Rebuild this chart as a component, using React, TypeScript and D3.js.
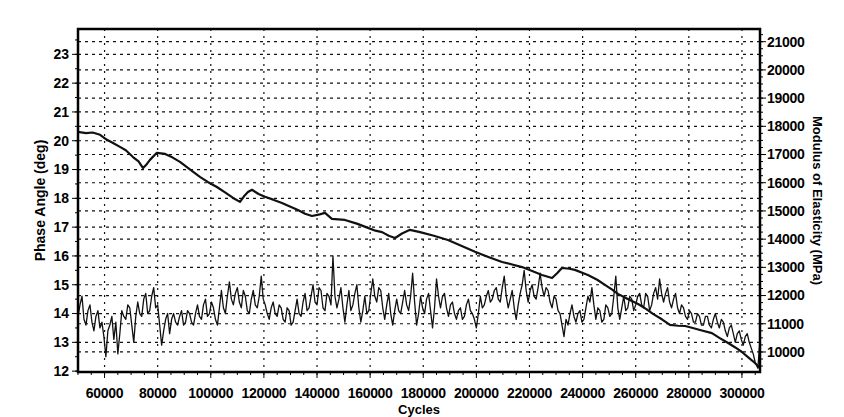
import React from "react";
import * as d3 from "d3";

const width = 844;
const height = 417;
const margin = { top: 29, right: 84, bottom: 45, left: 78 };

const cycleTicks = [60000, 80000, 100000, 120000, 140000, 160000, 180000, 200000, 220000, 240000, 260000, 280000, 300000];
const phaseTicks = [12, 13, 14, 15, 16, 17, 18, 19, 20, 21, 22, 23];
const modulusTicks = [10000, 11000, 12000, 13000, 14000, 15000, 16000, 17000, 18000, 19000, 20000, 21000];

// modulus of elasticity (MPa), right axis
const modulus: [number, number][] = [
  [50000, 17800], [53000, 17760], [55500, 17780], [58300, 17700], [60900, 17520], [63000, 17420],
  [65800, 17270], [68000, 17150], [70700, 16910], [72800, 16760], [74500, 16520], [75800, 16650],
  [77100, 16810], [79700, 17060], [82800, 17020], [85500, 16900], [88400, 16740], [92000, 16480],
  [95900, 16210], [99000, 16020], [102300, 15850], [105500, 15650], [108400, 15460], [111000, 15320],
  [112500, 15520], [114000, 15670], [115500, 15750], [118000, 15600], [120400, 15500], [123500, 15400],
  [126800, 15280], [130000, 15150], [132800, 15030], [135500, 14900], [138100, 14820], [141000, 14880],
  [143000, 14930], [145600, 14720], [148000, 14700], [150500, 14680], [155000, 14550], [159200, 14400],
  [162000, 14300], [164500, 14250], [167000, 14120], [169400, 14040], [172000, 14200], [175000, 14330],
  [178800, 14250], [184000, 14120], [189300, 13970], [194500, 13760], [199500, 13550], [204500, 13370],
  [209700, 13190], [213500, 13100], [217200, 13010], [221000, 12870], [224700, 12730], [228500, 12620],
  [230500, 12800], [232200, 12980], [235000, 12950], [237100, 12910], [242000, 12730], [245500, 12560],
  [248400, 12380], [251000, 12220], [253300, 12060], [257000, 11880], [260900, 11700], [264000, 11520],
  [266500, 11350], [270000, 11150], [272900, 10960], [276000, 10930], [278600, 10920], [281500, 10850],
  [284200, 10780], [288700, 10670], [291500, 10500], [294800, 10320], [297500, 10160], [300000, 10000],
  [302500, 9800], [304900, 9610], [306800, 9430]
];

// phase angle (deg), left axis
const phase: [number, number][] = [
  [50000, 13.9], [50750, 14.3], [51500, 14.6], [52250, 13.8], [53000, 13.6], [53750, 14.1], [54500, 14.3], [55250, 13.7],
  [56000, 13.4], [56750, 13.9], [57500, 14.1], [58250, 13.5], [59000, 13.7], [59750, 13.2], [60500, 12.5], [61250, 13.4],
  [62000, 13.6], [62750, 13.9], [63500, 13.1], [64250, 13.7], [65000, 12.6], [65750, 13.3], [66500, 14.1], [67250, 13.9],
  [68000, 13.8], [68750, 14.3], [69500, 14.2], [70250, 13.6], [71000, 13.0], [71750, 13.9], [72500, 14.4], [73250, 14.0],
  [74000, 13.9], [74750, 14.5], [75500, 14.7], [76250, 14.0], [77000, 14.1], [77750, 14.6], [78500, 14.9], [79250, 14.2],
  [80000, 14.3], [80750, 13.6], [81500, 12.9], [82250, 13.4], [83000, 13.8], [83750, 14.0], [84500, 13.3], [85250, 13.8],
  [86000, 14.0], [86750, 13.7], [87500, 13.6], [88250, 13.9], [89000, 14.1], [89750, 13.6], [90500, 13.7], [91250, 14.1],
  [92000, 14.0], [92750, 13.7], [93500, 13.6], [94250, 14.0], [95000, 14.3], [95750, 13.9], [96500, 13.8], [97250, 14.3],
  [98000, 14.5], [98750, 13.9], [99500, 14.0], [100250, 14.4], [101000, 14.2], [101750, 13.8], [102500, 13.6], [103250, 14.2],
  [104000, 14.8], [104750, 14.2], [105500, 14.0], [106250, 14.6], [107000, 15.1], [107750, 14.5], [108500, 14.3], [109250, 14.7],
  [110000, 14.9], [110750, 14.4], [111500, 14.2], [112250, 14.8], [113000, 14.6], [113750, 14.1], [114500, 14.0], [115250, 14.5],
  [116000, 14.8], [116750, 14.3], [117500, 14.2], [118250, 14.6], [119000, 15.3], [119750, 14.5], [120500, 14.3], [121250, 14.0],
  [122000, 13.8], [122750, 14.2], [123500, 14.4], [124250, 14.0], [125000, 13.9], [125750, 14.3], [126500, 14.2], [127250, 13.8],
  [128000, 13.7], [128750, 14.2], [129500, 14.1], [130250, 13.6], [131000, 13.7], [131750, 14.1], [132500, 14.5], [133250, 14.0],
  [134000, 13.9], [134750, 14.4], [135500, 14.7], [136250, 14.1], [137000, 14.2], [137750, 14.6], [138500, 15.0], [139250, 14.4],
  [140000, 14.3], [140750, 14.9], [141500, 14.8], [142250, 14.2], [143000, 14.1], [143750, 14.7], [144500, 14.6], [145250, 14.3],
  [146000, 16.0], [146750, 14.6], [147500, 14.2], [148250, 14.5], [149000, 14.9], [149750, 14.2], [150500, 13.7], [151250, 14.3],
  [152000, 14.8], [152750, 14.1], [153500, 14.3], [154250, 14.7], [155000, 15.0], [155750, 14.2], [156500, 13.7], [157250, 14.1],
  [158000, 14.6], [158750, 14.0], [159500, 14.1], [160250, 14.7], [161000, 15.2], [161750, 14.6], [162500, 14.4], [163250, 14.9],
  [164000, 14.8], [164750, 14.2], [165500, 13.8], [166250, 14.3], [167000, 14.7], [167750, 14.0], [168500, 13.6], [169250, 14.1],
  [170000, 14.5], [170750, 14.1], [171500, 14.0], [172250, 14.4], [173000, 14.8], [173750, 14.3], [174500, 14.1], [175250, 14.6],
  [176000, 15.4], [176750, 14.4], [177500, 13.6], [178250, 14.0], [179000, 14.6], [179750, 14.2], [180500, 14.0], [181250, 14.5],
  [182000, 14.7], [182750, 14.1], [183500, 13.5], [184250, 14.2], [185000, 15.2], [185750, 14.6], [186500, 14.2], [187250, 14.6],
  [188000, 14.7], [188750, 14.2], [189500, 13.9], [190250, 14.3], [191000, 14.4], [191750, 14.0], [192500, 13.8], [193250, 14.1],
  [194000, 14.2], [194750, 13.8], [195500, 13.9], [196250, 14.3], [197000, 14.5], [197750, 14.1], [198500, 14.0], [199250, 13.8],
  [200000, 13.5], [200750, 14.0], [201500, 14.6], [202250, 14.2], [203000, 14.3], [203750, 14.6], [204500, 14.8], [205250, 14.4],
  [206000, 14.5], [206750, 14.8], [207500, 14.9], [208250, 14.5], [209000, 14.4], [209750, 14.9], [210500, 15.3], [211250, 14.6],
  [212000, 14.2], [212750, 14.5], [213500, 14.8], [214250, 14.2], [215000, 13.8], [215750, 14.3], [216500, 14.7], [217250, 15.0],
  [218000, 15.5], [218750, 14.8], [219500, 14.4], [220250, 14.8], [221000, 15.0], [221750, 14.6], [222500, 14.5], [223250, 14.9],
  [224000, 15.4], [224750, 14.9], [225500, 14.6], [226250, 14.9], [227000, 14.8], [227750, 14.4], [228500, 14.2], [229250, 14.6],
  [230000, 14.5], [230750, 14.1], [231500, 14.0], [232250, 13.6], [233000, 13.2], [233750, 13.8], [234500, 13.6], [235250, 14.0],
  [236000, 14.3], [236750, 13.9], [237500, 13.7], [238250, 14.0], [239000, 14.1], [239750, 13.7], [240500, 13.8], [241250, 14.2],
  [242000, 14.6], [242750, 14.4], [243500, 14.9], [244250, 14.3], [245000, 13.8], [245750, 14.2], [246500, 14.1], [247250, 13.7],
  [248000, 13.8], [248750, 14.3], [249500, 14.2], [250250, 13.9], [251000, 14.0], [251750, 14.6], [252500, 15.3], [253250, 14.2],
  [254000, 13.8], [254750, 14.2], [255500, 14.6], [256250, 14.1], [257000, 14.2], [257750, 14.6], [258500, 14.5], [259250, 14.1],
  [260000, 14.3], [260750, 14.6], [261500, 14.7], [262250, 14.3], [263000, 14.2], [263750, 14.7], [264500, 14.6], [265250, 14.1],
  [266000, 14.3], [266750, 14.7], [267500, 14.9], [268250, 14.5], [269000, 15.2], [269750, 14.7], [270500, 14.4], [271250, 14.7],
  [272000, 14.9], [272750, 14.4], [273500, 14.2], [274250, 14.5], [275000, 14.7], [275750, 14.2], [276500, 14.0], [277250, 14.3],
  [278000, 14.2], [278750, 13.9], [279500, 13.8], [280250, 14.1], [281000, 14.0], [281750, 13.7], [282500, 13.7], [283250, 14.0],
  [284000, 13.9], [284750, 13.6], [285500, 13.6], [286250, 13.9], [287000, 13.9], [287750, 13.6], [288500, 13.5], [289250, 13.8],
  [290000, 14.0], [290750, 13.7], [291500, 13.5], [292250, 13.8], [293000, 13.7], [293750, 13.4], [294500, 13.2], [295250, 13.5],
  [296000, 13.6], [296750, 13.3], [297500, 13.0], [298250, 13.3], [299000, 13.4], [299750, 13.1], [300500, 12.9], [301250, 13.2],
  [302000, 13.3], [302750, 13.0], [303500, 12.8], [304250, 12.6], [305000, 12.3], [306000, 12.1], [306700, 13.0]
];

const font = "'Liberation Sans', Arial, sans-serif";

export default function App() {
  const x0 = margin.left;
  const x1 = width - margin.right;
  const y0 = margin.top;
  const y1 = height - margin.bottom;

  const x = d3.scaleLinear().domain([50000, 306800]).range([x0, x1]);
  const yLeft = d3.scaleLinear().domain([11.97, 23.88]).range([y1, y0]);
  const yRight = d3.scaleLinear().domain([9290, 21450]).range([y1, y0]);

  const modLine = d3.line<[number, number]>().x(d => x(d[0])).y(d => yRight(d[1]));
  const phaseLine = d3.line<[number, number]>().x(d => x(d[0])).y(d => yLeft(d[1]));

  const xMinor = d3.range(50000, 306800, 5000);
  const leftMinor = d3.range(12, 23.9, 0.5);
  const rightMinor = d3.range(9500, 21450, 250);

  return (
    <svg width={width} height={height} style={{ position: "absolute", left: 0, top: 0, background: "#fff" }}>
      <rect width={width} height={height} fill="#fff" />
      {/* grid */}
      <g stroke="#111" strokeWidth={1.2} fill="none">
        {phaseTicks.slice(1).map(t => (
          <line key={"gl" + t} x1={x0} x2={x1} y1={yLeft(t)} y2={yLeft(t)} strokeDasharray="3,4" />
        ))}
        {modulusTicks.map(t => (
          <line key={"gr" + t} x1={x0} x2={x1} y1={yRight(t)} y2={yRight(t)} strokeDasharray="3,4" />
        ))}
        {cycleTicks.map(t => (
          <line key={"gx" + t} x1={x(t)} x2={x(t)} y1={y0} y2={y1} strokeDasharray="2,5" />
        ))}
      </g>
      {/* data */}
      <path d={phaseLine(phase) || ""} fill="none" stroke="#111" strokeWidth={1.3} strokeLinejoin="round" />
      <path d={modLine(modulus) || ""} fill="none" stroke="#111" strokeWidth={2.2} strokeLinejoin="round" />
      {/* frame */}
      <rect x={x0} y={y0} width={x1 - x0} height={y1 - y0} fill="none" stroke="#000" strokeWidth={2.5} />
      {/* ticks */}
      <g stroke="#000" strokeWidth={1}>
        {xMinor.map(t => (
          <line key={"xm" + t} x1={x(t)} x2={x(t)} y1={y1} y2={y1 + 3} />
        ))}
        {cycleTicks.map(t => (
          <line key={"xt" + t} x1={x(t)} x2={x(t)} y1={y1} y2={y1 + 6} />
        ))}
        {leftMinor.map(t => (
          <line key={"lm" + t} x1={x0 - 3} x2={x0} y1={yLeft(t)} y2={yLeft(t)} />
        ))}
        {phaseTicks.map(t => (
          <line key={"lt" + t} x1={x0 - 6} x2={x0} y1={yLeft(t)} y2={yLeft(t)} />
        ))}
        {rightMinor.map(t => (
          <line key={"rm" + t} x1={x1} x2={x1 + 3} y1={yRight(t)} y2={yRight(t)} />
        ))}
        {modulusTicks.map(t => (
          <line key={"rt" + t} x1={x1} x2={x1 + 6} y1={yRight(t)} y2={yRight(t)} />
        ))}
      </g>
      {/* labels */}
      <g fontFamily={font} fontWeight="bold" fontSize={14} fill="#000">
        {cycleTicks.map(t => (
          <text key={"xl" + t} x={x(t)} y={398} textAnchor="middle" letterSpacing={-0.3}>
            {t}
          </text>
        ))}
        {phaseTicks.map(t => (
          <text key={"ll" + t} x={x0 - 9} y={yLeft(t)} dy="0.35em" textAnchor="end">
            {t}
          </text>
        ))}
        {modulusTicks.map(t => (
          <text key={"rl" + t} x={x1 + 7} y={yRight(t)} dy="0.35em" textAnchor="start" letterSpacing={-0.3}>
            {t}
          </text>
        ))}
        <text x={(x0 + x1) / 2} y={414} textAnchor="middle" fontSize={13}>
          Cycles
        </text>
        <text transform={`translate(40, ${(y0 + y1) / 2}) rotate(-90)`} textAnchor="middle" dy="0.35em">
          Phase Angle (deg)
        </text>
        <text transform={`translate(818, ${(y0 + y1) / 2}) rotate(90)`} textAnchor="middle" dy="0.35em" fontSize={13}>
          Modulus of Elasticity (MPa)
        </text>
      </g>
    </svg>
  );
}
